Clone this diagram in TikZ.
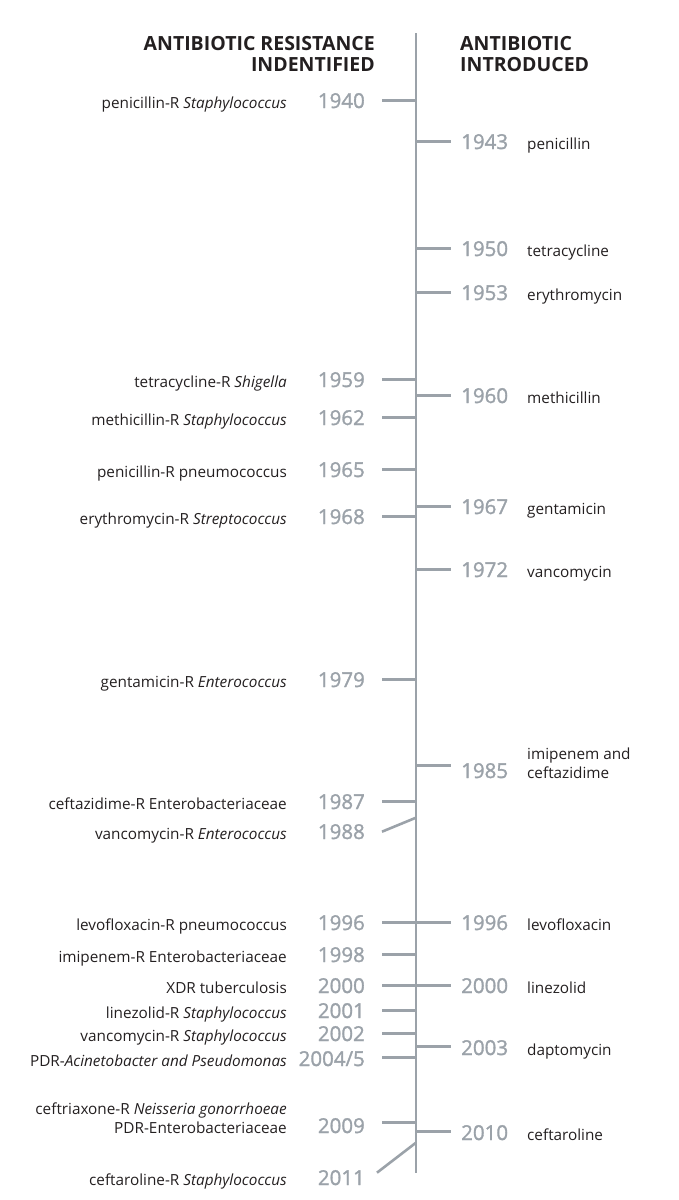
\documentclass[tikz,border=0pt]{standalone}
\usepackage{fontspec}
\setmainfont{Open Sans}
\newfontfamily\yrfont[FakeBold=1.5]{Open Sans}
\usepackage{tikz}
\definecolor{tlgray}{HTML}{9BA2A9}
\definecolor{ink}{HTML}{231F20}
\tikzstyle{tk}=[line width=2.6pt,draw=tlgray]
\tikzstyle{yr}=[font=\yrfont\fontsize{20.5}{21}\selectfont,text=tlgray,inner sep=0pt]
\tikzstyle{lyr}=[yr,anchor=base east]
\tikzstyle{ryr}=[yr,anchor=base west]
\tikzstyle{lbl}=[font=\fontsize{15.3}{18.5}\selectfont,text=ink,inner sep=0pt]
\tikzstyle{llbl}=[lbl,anchor=base east,align=right]
\tikzstyle{rlbl}=[lbl,anchor=base west,align=left]
\tikzstyle{hd}=[font=\bfseries\fontsize{19.5}{21}\selectfont,text=ink,inner sep=0pt]
\begin{document}
\begin{tikzpicture}[x=1pt,y=-1pt]
	\useasboundingbox (0,0) rectangle (678,1200);
	\coordinate (top) at (416,33);
	\coordinate (bot) at (416,1173);
	\coordinate (lcol) at (287,0);
	\coordinate (rcol) at (527,0);
	\draw[tk] (top) -- (bot);
	\node[hd,anchor=north east,align=right] (hres) at (375,36) {ANTIBIOTIC RESISTANCE\\INDENTIFIED};
	\node[hd,anchor=north west,align=left] (hint) at (460,36) {ANTIBIOTIC\\INTRODUCED};
	% resistance identified
	\node[lyr] (y1940) at (365,108) {1940};
	\node[lyr] (y1959) at (365,387) {1959};
	\node[lyr] (y1962) at (365,425) {1962};
	\node[lyr] (y1965) at (365,477) {1965};
	\node[lyr] (y1968) at (365,524) {1968};
	\node[lyr] (y1979) at (365,687) {1979};
	\node[lyr] (y1987) at (365,809) {1987};
	\node[lyr] (y1988) at (365,839) {1988};
	\node[lyr] (y1996) at (365,930) {1996};
	\node[lyr] (y1998) at (365,962) {1998};
	\node[lyr] (y2000) at (365,993) {2000};
	\node[lyr] (y2001) at (365,1018) {2001};
	\node[lyr] (y2002) at (365,1041) {2002};
	\node[lyr] (y2004) at (365,1066) {2004/5};
	\node[lyr] (y2009) at (365,1133) {2009};
	\node[lyr] (y2011) at (365,1185) {2011};
	\node[llbl] (l1940) at (y1940.base -| lcol) {penicillin-R \textit{Staphylococcus}};
	\node[llbl] (l1959) at (y1959.base -| lcol) {tetracycline-R \textit{Shigella}};
	\node[llbl] (l1962) at (y1962.base -| lcol) {methicillin-R \textit{Staphylococcus}};
	\node[llbl] (l1965) at (y1965.base -| lcol) {penicillin-R pneumococcus};
	\node[llbl] (l1968) at (y1968.base -| lcol) {erythromycin-R \textit{Streptococcus}};
	\node[llbl] (l1979) at (y1979.base -| lcol) {gentamicin-R \textit{Enterococcus}};
	\node[llbl] (l1987) at (y1987.base -| lcol) {ceftazidime-R Enterobacteriaceae};
	\node[llbl] (l1988) at (y1988.base -| lcol) {vancomycin-R \textit{Enterococcus}};
	\node[llbl] (l1996) at (y1996.base -| lcol) {levofloxacin-R pneumococcus};
	\node[llbl] (l1998) at (y1998.base -| lcol) {imipenem-R Enterobacteriaceae};
	\node[llbl] (l2000) at (y2000.base -| lcol) {XDR tuberculosis};
	\node[llbl] (l2001) at (y2001.base -| lcol) {linezolid-R \textit{Staphylococcus}};
	\node[llbl] (l2002) at (y2002.base -| lcol) {vancomycin-R \textit{Staphylococcus}};
	\node[llbl] (l2004) at (y2004.base -| lcol) {PDR-\textit{Acinetobacter and Pseudomonas}};
	\node[llbl] (l2009) at (y2009.base -| lcol) {ceftriaxone-R \textit{Neisseria gonorrhoeae}\\PDR-Enterobacteriaceae};
	\node[llbl] (l2011) at (y2011.base -| lcol) {ceftaroline-R \textit{Staphylococcus}};
	\draw[tk] ([xshift=17pt]y1940.east) -- (y1940.east -| top);
	\draw[tk] ([xshift=17pt]y1959.east) -- (y1959.east -| top);
	\draw[tk] ([xshift=17pt]y1962.east) -- (y1962.east -| top);
	\draw[tk] ([xshift=17pt]y1965.east) -- (y1965.east -| top);
	\draw[tk] ([xshift=17pt]y1968.east) -- (y1968.east -| top);
	\draw[tk] ([xshift=17pt]y1979.east) -- (y1979.east -| top);
	\draw[tk] ([xshift=17pt]y1987.east) -- (y1987.east -| top);
	\draw[tk] ([xshift=17pt]y1988.east) -- ([yshift=14pt]y1988.east -| top);
	\draw[tk] ([xshift=17pt]y1996.east) -- (y1996.east -| top);
	\draw[tk] ([xshift=17pt]y1998.east) -- (y1998.east -| top);
	\draw[tk] ([xshift=17pt]y2000.east) -- (y2000.east -| top);
	\draw[tk] ([xshift=17pt]y2001.east) -- (y2001.east -| top);
	\draw[tk] ([xshift=17pt]y2002.east) -- (y2002.east -| top);
	\draw[tk] ([xshift=17pt,yshift=1pt]y2004.east) -- ([yshift=1pt]y2004.east -| top);
	\draw[tk] ([xshift=17pt,yshift=3pt]y2009.east) -- ([yshift=3pt]y2009.east -| top);
	\draw[tk] ([xshift=12pt,yshift=5pt]y2011.east) -- ([yshift=35pt]y2011.east -| top);
	% antibiotic introduced
	\node[ryr] (r1943) at (461,149) {1943};
	\node[ryr] (r1950) at (461,256) {1950};
	\node[ryr] (r1953) at (461,300) {1953};
	\node[ryr] (r1960) at (461,403) {1960};
	\node[ryr] (r1967) at (461,514) {1967};
	\node[ryr] (r1972) at (461,577) {1972};
	\node[ryr] (r1985) at (461,778) {1985};
	\node[ryr] (r1996) at (461,930) {1996};
	\node[ryr] (r2000) at (461,993) {2000};
	\node[ryr] (r2003) at (461,1055) {2003};
	\node[ryr] (r2010) at (461,1140) {2010};
	\node[rlbl] (t1943) at (r1943.base -| rcol) {penicillin};
	\node[rlbl] (t1950) at (r1950.base -| rcol) {tetracycline};
	\node[rlbl] (t1953) at (r1953.base -| rcol) {erythromycin};
	\node[rlbl] (t1960) at (r1960.base -| rcol) {methicillin};
	\node[rlbl] (t1967) at (r1967.base -| rcol) {gentamicin};
	\node[rlbl] (t1972) at (r1972.base -| rcol) {vancomycin};
	\node[rlbl] (t1985) at (r1985.base -| rcol) {imipenem and\\ceftazidime};
	\node[rlbl] (t1996) at (r1996.base -| rcol) {levofloxacin};
	\node[rlbl] (t2000) at (r2000.base -| rcol) {linezolid};
	\node[rlbl] (t2003) at (r2003.base -| rcol) {daptomycin};
	\node[rlbl] (t2010) at (r2010.base -| rcol) {ceftaroline};
	\draw[tk] (r1943.west -| top) -- ([xshift=-10pt]r1943.west);
	\draw[tk] (r1950.west -| top) -- ([xshift=-10pt]r1950.west);
	\draw[tk] (r1953.west -| top) -- ([xshift=-10pt]r1953.west);
	\draw[tk] (r1960.west -| top) -- ([xshift=-10pt]r1960.west);
	\draw[tk] (r1967.west -| top) -- ([xshift=-10pt]r1967.west);
	\draw[tk] (r1972.west -| top) -- ([xshift=-10pt]r1972.west);
	\draw[tk] ([yshift=5pt]r1985.west -| top) -- ([xshift=-10pt,yshift=5pt]r1985.west);
	\draw[tk] (r1996.west -| top) -- ([xshift=-10pt]r1996.west);
	\draw[tk] (r2000.west -| top) -- ([xshift=-10pt]r2000.west);
	\draw[tk] ([yshift=1pt]r2003.west -| top) -- ([xshift=-10pt,yshift=1pt]r2003.west);
	\draw[tk] ([yshift=1pt]r2010.west -| top) -- ([xshift=-10pt,yshift=1pt]r2010.west);
\end{tikzpicture}
\end{document}
